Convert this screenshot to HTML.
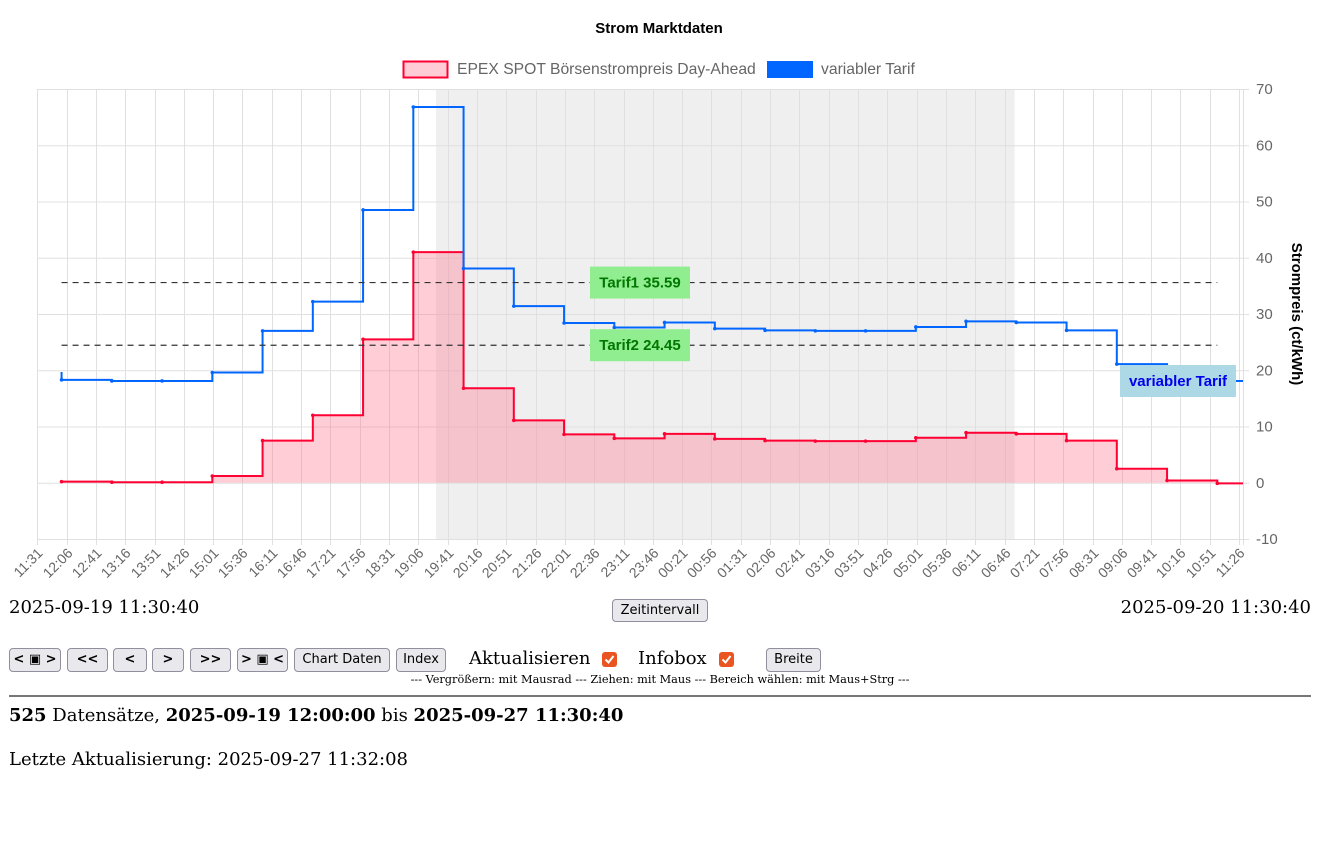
<!DOCTYPE html>
<html><head><meta charset="utf-8">
<style>
body{margin:0;width:1324px;height:861px;background:#fff;position:relative;overflow:hidden;font-family:"DejaVu Serif",serif;}
.abs{position:absolute;}
.btn{position:absolute;top:648px;height:24px;box-sizing:border-box;border:1px solid #8f8f9d;border-radius:4px;background:#e9e9ed;font-family:"DejaVu Sans",sans-serif;font-size:13px;line-height:22px;text-align:center;color:#000;padding:0;}
.cb{position:absolute;width:15px;height:15px;border-radius:3px;background:#e95420;top:652px;}
.cb svg{display:block}
.txt{position:absolute;font-size:18px;color:#000;white-space:nowrap;}
</style></head><body>
<svg id="chart" class="abs" style="left:0;top:0" width="1324" height="590" xmlns="http://www.w3.org/2000/svg"></svg>

<div class="txt" style="left:9px;top:597px">2025-09-19 11:30:40</div>
<button class="btn" style="left:612px;top:599px;width:96px;height:23px">Zeitintervall</button>
<div class="txt" style="right:13px;top:597px">2025-09-20 11:30:40</div>

<button class="btn" style="left:9px;width:52px;font-weight:bold">&lt; ▣ &gt;</button>
<button class="btn" style="left:67px;width:41px;font-weight:bold">&lt;&lt;</button>
<button class="btn" style="left:113px;width:34px;font-weight:bold">&lt;</button>
<button class="btn" style="left:152px;width:32px;font-weight:bold">&gt;</button>
<button class="btn" style="left:190px;width:41px;font-weight:bold">&gt;&gt;</button>
<button class="btn" style="left:237px;width:51px;font-weight:bold">&gt; ▣ &lt;</button>
<button class="btn" style="left:294px;width:96px">Chart Daten</button>
<button class="btn" style="left:396px;width:50px">Index</button>
<div class="txt" style="left:469px;top:648px">Aktualisieren</div>
<div class="cb" style="left:602px"><svg width="15" height="15"><path d="M3.5 7.5 L6.5 10.5 L11.5 4" stroke="#fff" stroke-width="2" fill="none"/></svg></div>
<div class="txt" style="left:638px;top:648px">Infobox</div>
<div class="cb" style="left:719px"><svg width="15" height="15"><path d="M3.5 7.5 L6.5 10.5 L11.5 4" stroke="#fff" stroke-width="2" fill="none"/></svg></div>
<button class="btn" style="left:766px;width:55px">Breite</button>
<div class="txt" style="left:0;width:1320px;text-align:center;top:673px;font-size:11.3px">--- Vergrößern: mit Mausrad --- Ziehen: mit Maus --- Bereich wählen: mit Maus+Strg ---</div>
<div class="abs" style="left:9px;top:695px;width:1302px;height:2px;background:#777"></div>
<div class="txt" style="left:9px;top:705px"><b>525</b> Datensätze, <b>2025-09-19 12:00:00</b> bis <b>2025-09-27 11:30:40</b></div>
<div class="txt" style="left:9px;top:749px">Letzte Aktualisierung: 2025-09-27 11:32:08</div>

<script>
const hourLabels = ["12:00","13:00","14:00","15:00","16:00","17:00","18:00","19:00","20:00","21:00","22:00","23:00","00:00","01:00","02:00","03:00","04:00","05:00","06:00","07:00","08:00","09:00","10:00","11:00"];
const epexValues = [0.2,0.1,0.1,1.2,7.5,12.0,25.5,41.0,16.8,11.1,8.6,7.9,8.7,7.8,7.5,7.4,7.4,8.0,8.9,8.7,7.5,2.5,0.4,-0.1];
const tarifValues = [18.3,18.1,18.1,19.6,27.0,32.2,48.5,66.8,38.1,31.4,28.4,27.6,28.5,27.4,27.1,27.0,27.0,27.7,28.7,28.5,27.1,21.1,18.1,18.1];
const tarifStart = 19.7;
const yTicks = [-10,0,10,20,30,40,50,60,70];
const xTickLabels = ["11:31","12:06","12:41","13:16","13:51","14:26","15:01","15:36","16:11","16:46","17:21","17:56","18:31","19:06","19:41","20:16","20:51","21:26","22:01","22:36","23:11","23:46","00:21","00:56","01:31","02:06","02:41","03:16","03:51","04:26","05:01","05:36","06:11","06:46","07:21","07:56","08:31","09:06","09:41","10:16","10:51","11:26"];
const tarifLines = [35.59,24.45];
const tarifNames = ["Tarif1","Tarif2"];
const nightBand = ["19:27","06:58"];

const NS="http://www.w3.org/2000/svg", svg=document.getElementById('chart');
const X0=37,X1=1243,Y0=539,Y1=89,TOTAL=1440;
function toMin(s){const [h,m]=s.split(':').map(Number);let v=h*60+m-(11*60+30+40/60);if(v<0)v+=1440;return v;}
function xs(min){return X0+min*(X1-X0)/TOTAL;}
function ys(v){return Y0-(v+10)*(Y0-Y1)/80;}
function el(tag,a,parent){const e=document.createElementNS(NS,tag);for(const k in a)e.setAttribute(k,a[k]);(parent||svg).appendChild(e);return e;}

let t=el('text',{x:659,y:33,'text-anchor':'middle','font-family':'Liberation Sans, sans-serif','font-size':15,'font-weight':'bold',fill:'#000'});t.textContent='Strom Marktdaten';

let g=el('g',{});
el('rect',{x:403.5,y:61.5,width:44,height:16,fill:'#ffccd5',stroke:'#ff0033','stroke-width':2},g);
t=el('text',{x:457,y:74,'font-family':'Liberation Sans, sans-serif','font-size':15.7,fill:'#666'},g);t.textContent='EPEX SPOT Börsenstrompreis Day-Ahead';
g=el('g',{});
el('rect',{x:767,y:61,width:46,height:17,fill:'#0066ff'},g);
t=el('text',{x:821,y:74,'font-family':'Liberation Sans, sans-serif','font-size':15.7,fill:'#666'},g);t.textContent='variabler Tarif';

let r=el('rect',{x:xs(toMin(nightBand[0])),y:Y1,width:xs(toMin(nightBand[1]))-xs(toMin(nightBand[0])),height:Y0-Y1,fill:'#efefef'});


const grid=el('g',{stroke:'#e0e0e0','stroke-width':1});
yTicks.forEach(v=>{el('line',{x1:X0,x2:X1+6,y1:ys(v)+.5,y2:ys(v)+.5},grid);
 const tt=el('text',{x:1256,y:ys(v)+5,'font-family':'Liberation Sans, sans-serif','font-size':15,fill:'#666'});tt.textContent=v;
 });
el('line',{x1:X0+.5,x2:X0+.5,y1:Y1,y2:Y0+6},grid);
xTickLabels.forEach(s=>{const x=Math.round(xs(toMin(s)))+.5;el('line',{x1:x,x2:x,y1:Y1,y2:Y0+6},grid);
 const ax=x+6, ay=Y0+15;
 const tt=el('text',{x:ax,y:ay,'text-anchor':'end','font-family':'Liberation Sans, sans-serif','font-size':14,fill:'#666',transform:`rotate(-45 ${ax} ${ay})`});tt.textContent=s;
 });
el('line',{x1:X1+.5,x2:X1+.5,y1:Y1,y2:Y0+6},grid);
t=el('text',{x:1292,y:314,'text-anchor':'middle','font-family':'Liberation Sans, sans-serif','font-size':15,'font-weight':'bold',fill:'#000',transform:'rotate(90 1292 314)'});t.textContent='Strompreis (ct/kWh)';


function stepPath(vals,start){let d='';vals.forEach((v,i)=>{const xa=xs(toMin(hourLabels[i]));const xb=i+1<vals.length?xs(toMin(hourLabels[i+1])):X1;
 if(i==0)d+=`M${xa},${ys(start!==undefined?start:v)}L${xa},${ys(v)}`;else d+=`L${xa},${ys(v)}`;d+=`L${xb},${ys(v)}`;});return d;}
const epexD=stepPath(epexValues);
let p=el('path',{d:epexD+`L${X1},${ys(0)}L${xs(toMin(hourLabels[0]))},${ys(0)}Z`,fill:'rgba(255,120,145,0.37)'});

p=el('path',{d:epexD,fill:'none',stroke:'#ff0033','stroke-width':2});

epexValues.forEach((v,i)=>{const c=el('circle',{cx:xs(toMin(hourLabels[i])),cy:ys(v),r:1.8,fill:'#ff0033'});});
p=el('path',{d:stepPath(tarifValues,tarifStart),fill:'none',stroke:'#0066ff','stroke-width':2});

tarifValues.forEach((v,i)=>{const c=el('circle',{cx:xs(toMin(hourLabels[i])),cy:ys(v),r:1.8,fill:'#0066ff'});});

tarifLines.forEach((v,i)=>{const l=el('line',{x1:xs(toMin(hourLabels[0])),x2:xs(toMin(hourLabels[23])),y1:ys(v),y2:ys(v),stroke:'#333','stroke-width':1.2,'stroke-dasharray':'6,5'});
 
 const bg=el('g',{});
 el('rect',{x:590,y:ys(v)-16,width:100,height:32,fill:'#90ee90'},bg);
 const tx=el('text',{x:640,y:ys(v)+5,'text-anchor':'middle','font-family':'Liberation Sans, sans-serif','font-size':15,'font-weight':'bold',fill:'#007700'},bg);tx.textContent=tarifNames[i]+' '+v.toFixed(2);});

g=el('g',{});
el('rect',{x:1120,y:365,width:116,height:32,fill:'#add8e6'},g);
t=el('text',{x:1178,y:386,'text-anchor':'middle','font-family':'Liberation Sans, sans-serif','font-size':15,'font-weight':'bold',fill:'#0000ee'},g);t.textContent='variabler Tarif';
</script>
</body></html>
